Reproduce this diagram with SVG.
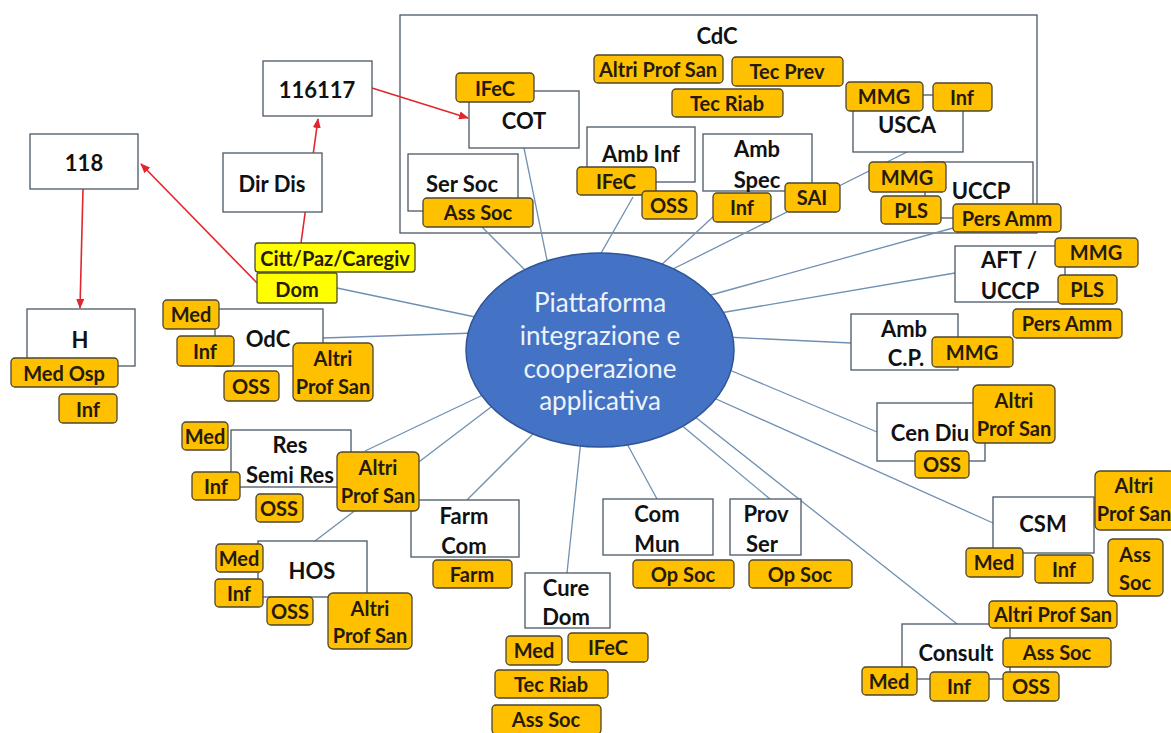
<svg xmlns="http://www.w3.org/2000/svg" width="1171" height="733" viewBox="0 0 1171 733">
<defs>
<style>
.bx{fill:#fff;stroke:#4a5866;stroke-width:1.3}
.fr{fill:none;stroke:#4a5866;stroke-width:1.3}
.o{fill:#FFC000;stroke:#4d4530;stroke-width:1.3}
.y{fill:#FFFF00;stroke:#4d4d2a;stroke-width:1.3}
.t{font-family:Lato,"Liberation Sans",sans-serif;font-weight:700;font-size:22px;fill:#111;text-anchor:middle;dominant-baseline:central}
.s{font-size:20px;fill:#261a0c}
.big{font-size:22px}
.hub{stroke:#7090b2;stroke-width:1.3;fill:none}
.red{stroke:#e3262e;stroke-width:1.6;fill:none;marker-end:url(#ah)}
.et{font-family:Lato,"Liberation Sans",sans-serif;font-size:26px;fill:#eef3fb;text-anchor:middle;dominant-baseline:central}
</style>
<marker id="ah" markerWidth="10" markerHeight="8" refX="9" refY="4" orient="auto" markerUnits="userSpaceOnUse"><path d="M0,0 L10,4 L0,8 z" fill="#e3262e"/></marker>
</defs>
<rect width="1171" height="733" fill="#fff"/>

<g id="n-cdc">
<rect class="fr" x="400" y="15" width="637" height="218"/>
<text class="t" x="717" y="35">CdC</text>
</g>

<g id="connectors">
<line class="hub" x1="482" y1="227" x2="530" y2="275"/>
<line class="hub" x1="524" y1="148" x2="548" y2="265"/>
<line class="hub" x1="633" y1="197" x2="596" y2="262"/>
<line class="hub" x1="715" y1="215" x2="658" y2="268"/>
<line class="hub" x1="907" y1="152" x2="665" y2="273"/>
<line class="hub" x1="953" y1="228" x2="700" y2="298"/>
<line class="hub" x1="955" y1="273" x2="720" y2="313"/>
<line class="hub" x1="851" y1="343" x2="725" y2="337"/>
<line class="hub" x1="877" y1="432" x2="720" y2="366"/>
<line class="hub" x1="993" y1="523" x2="705" y2="394"/>
<line class="hub" x1="957" y1="624" x2="685" y2="409"/>
<line class="hub" x1="770" y1="499" x2="680" y2="424"/>
<line class="hub" x1="657" y1="499" x2="625" y2="440"/>
<line class="hub" x1="567" y1="573" x2="581" y2="440"/>
<line class="hub" x1="467" y1="500" x2="535" y2="432"/>
<line class="hub" x1="365" y1="451" x2="485" y2="394"/>
<line class="hub" x1="315" y1="541" x2="495" y2="404"/>
<line class="hub" x1="323" y1="338" x2="475" y2="333"/>
<line class="hub" x1="337" y1="288" x2="480" y2="318"/>
<line class="red" x1="372" y1="88" x2="468" y2="118"/>
<line class="red" x1="301" y1="243" x2="318" y2="119"/>
<line class="red" x1="257" y1="283" x2="141" y2="164"/>
<line class="red" x1="83" y1="189" x2="80" y2="308"/>
</g>

<g id="n-hub">
<ellipse cx="600" cy="350" rx="134" ry="97" fill="#4472C4" stroke="#2f5597" stroke-width="1.5"/>
<text class="et" x="600" y="302">Piattaforma</text>
<text class="et" x="600" y="335">integrazione e</text>
<text class="et" x="600" y="368">cooperazione</text>
<text class="et" x="600" y="400">applicativa</text>
</g>

<g id="n-cdc-staff">
<rect class="o" x="594" y="55" width="129" height="28" rx="4"/><text class="t s" x="658" y="69">Altri Prof San</text>
<rect class="o" x="732" y="57" width="111" height="29" rx="4"/><text class="t s" x="787" y="71">Tec Prev</text>
<rect class="o" x="672" y="89" width="111" height="28" rx="4"/><text class="t s" x="727" y="103">Tec Riab</text>
</g>

<g id="n-116117">
<rect class="bx" x="263" y="61" width="109" height="55"/>
<text class="t big" x="317" y="89">116117</text>
</g>

<g id="n-118">
<rect class="bx" x="30" y="134" width="108" height="55"/>
<text class="t big" x="84" y="162">118</text>
</g>

<g id="n-dirdis">
<rect class="bx" x="223" y="153" width="99" height="59"/>
<text class="t" x="272" y="183">Dir Dis</text>
</g>

<g id="n-cot">
<rect class="bx" x="469" y="91" width="110" height="57"/>
<text class="t" x="524" y="120">COT</text>
<rect class="o" x="456" y="73" width="78" height="29" rx="4"/><text class="t s" x="495" y="88">IFeC</text>
</g>

<g id="n-sersoc">
<rect class="bx" x="408" y="154" width="110" height="57"/>
<text class="t" x="462" y="183">Ser Soc</text>
<rect class="o" x="423" y="198" width="110" height="29" rx="4"/><text class="t s" x="478" y="212">Ass Soc</text>
</g>

<g id="n-ambinf">
<rect class="bx" x="587" y="127" width="108" height="55"/>
<text class="t" x="641" y="153">Amb Inf</text>
<rect class="o" x="577" y="167" width="79" height="28" rx="4"/><text class="t s" x="616" y="181">IFeC</text>
<rect class="o" x="642" y="191" width="55" height="28" rx="4"/><text class="t s" x="669" y="205">OSS</text>
</g>

<g id="n-ambspec">
<rect class="bx" x="703" y="134" width="109" height="57"/>
<text class="t" x="757" y="148">Amb</text>
<text class="t" x="757" y="179">Spec</text>
<rect class="o" x="713" y="193" width="58" height="29" rx="4"/><text class="t s" x="742" y="207">Inf</text>
<rect class="o" x="785" y="183" width="55" height="29" rx="4"/><text class="t s" x="812" y="197">SAI</text>
</g>

<g id="n-usca">
<rect class="bx" x="853" y="95" width="110" height="57"/>
<text class="t" x="907" y="124">USCA</text>
<rect class="o" x="846" y="82" width="77" height="29" rx="4"/><text class="t s" x="884" y="96">MMG</text>
<rect class="o" x="933" y="83" width="59" height="28" rx="4"/><text class="t s" x="962" y="97">Inf</text>
</g>

<g id="n-uccp">
<rect class="bx" x="925" y="162" width="108" height="56"/>
<text class="t" x="981" y="190">UCCP</text>
<rect class="o" x="869" y="162" width="77" height="30" rx="4"/><text class="t s" x="907" y="177">MMG</text>
<rect class="o" x="881" y="196" width="60" height="28" rx="4"/><text class="t s" x="911" y="210">PLS</text>
<rect class="o" x="953" y="204" width="108" height="28" rx="4"/><text class="t s" x="1007" y="218">Pers Amm</text>
</g>

<g id="n-aft">
<rect class="bx" x="955" y="246" width="110" height="56"/>
<text class="t" x="1009" y="259">AFT /</text>
<text class="t" x="1010" y="290">UCCP</text>
<rect class="o" x="1055" y="238" width="83" height="29" rx="4"/><text class="t s" x="1096" y="252">MMG</text>
<rect class="o" x="1058" y="275" width="59" height="29" rx="4"/><text class="t s" x="1087" y="289">PLS</text>
<rect class="o" x="1013" y="309" width="109" height="29" rx="4"/><text class="t s" x="1067" y="323">Pers Amm</text>
</g>

<g id="n-ambcp">
<rect class="bx" x="851" y="314" width="107" height="56"/>
<text class="t" x="904" y="328">Amb</text>
<text class="t" x="906" y="357">C.P.</text>
<rect class="o" x="932" y="337" width="81" height="30" rx="4"/><text class="t s" x="972" y="352">MMG</text>
</g>

<g id="n-cendiu">
<rect class="bx" x="877" y="403" width="108" height="58"/>
<text class="t" x="930" y="432">Cen Diu</text>
<rect class="o" x="973" y="385" width="82" height="58" rx="5"/><text class="t s" x="1014" y="400">Altri</text><text class="t s" x="1014" y="428">Prof San</text>
<rect class="o" x="915" y="451" width="54" height="27" rx="4"/><text class="t s" x="942" y="464">OSS</text>
</g>

<g id="n-csm">
<rect class="bx" x="993" y="497" width="101" height="56"/>
<text class="t" x="1043" y="523">CSM</text>
<rect class="o" x="1095" y="471" width="80" height="59" rx="5"/><text class="t s" x="1134" y="485">Altri</text><text class="t s" x="1134" y="513">Prof San</text>
<rect class="o" x="966" y="548" width="57" height="29" rx="4"/><text class="t s" x="994" y="562">Med</text>
<rect class="o" x="1035" y="555" width="58" height="28" rx="4"/><text class="t s" x="1064" y="569">Inf</text>
<rect class="o" x="1108" y="539" width="55" height="57" rx="5"/><text class="t s" x="1135" y="554">Ass</text><text class="t s" x="1135" y="582">Soc</text>
</g>

<g id="n-consult">
<rect class="bx" x="902" y="624" width="108" height="55"/>
<text class="t" x="956" y="652">Consult</text>
<rect class="o" x="989" y="601" width="128" height="27" rx="4"/><text class="t s" x="1053" y="614">Altri Prof San</text>
<rect class="o" x="1003" y="638" width="108" height="29" rx="4"/><text class="t s" x="1057" y="652">Ass Soc</text>
<rect class="o" x="862" y="667" width="55" height="28" rx="4"/><text class="t s" x="889" y="681">Med</text>
<rect class="o" x="930" y="672" width="59" height="29" rx="4"/><text class="t s" x="959" y="686">Inf</text>
<rect class="o" x="1003" y="672" width="56" height="29" rx="4"/><text class="t s" x="1031" y="686">OSS</text>
</g>

<g id="n-provser">
<rect class="bx" x="730" y="499" width="71" height="56"/>
<text class="t" x="766" y="513">Prov</text>
<text class="t" x="762" y="543">Ser</text>
<rect class="o" x="749" y="560" width="103" height="28" rx="4"/><text class="t s" x="800" y="574">Op Soc</text>
</g>

<g id="n-commun">
<rect class="bx" x="603" y="499" width="110" height="56"/>
<text class="t" x="657" y="513">Com</text>
<text class="t" x="657" y="543">Mun</text>
<rect class="o" x="633" y="560" width="101" height="28" rx="4"/><text class="t s" x="683" y="574">Op Soc</text>
</g>

<g id="n-curedom">
<rect class="bx" x="525" y="573" width="85" height="55"/>
<text class="t" x="566" y="587">Cure</text>
<text class="t" x="566" y="616">Dom</text>
<rect class="o" x="506" y="636" width="56" height="29" rx="4"/><text class="t s" x="534" y="650">Med</text>
<rect class="o" x="568" y="633" width="80" height="29" rx="4"/><text class="t s" x="608" y="647">IFeC</text>
<rect class="o" x="495" y="670" width="113" height="28" rx="4"/><text class="t s" x="551" y="684">Tec Riab</text>
<rect class="o" x="492" y="705" width="109" height="29" rx="4"/><text class="t s" x="546" y="719">Ass Soc</text>
</g>

<g id="n-farmcom">
<rect class="bx" x="411" y="500" width="108" height="57"/>
<text class="t" x="464" y="515">Farm</text>
<text class="t" x="464" y="545">Com</text>
<rect class="o" x="433" y="560" width="79" height="28" rx="4"/><text class="t s" x="472" y="574">Farm</text>
</g>

<g id="n-hos">
<rect class="bx" x="258" y="541" width="109" height="56"/>
<text class="t" x="312" y="570">HOS</text>
<rect class="o" x="216" y="544" width="47" height="28" rx="4"/><text class="t s" x="239" y="558">Med</text>
<rect class="o" x="215" y="579" width="48" height="28" rx="4"/><text class="t s" x="239" y="593">Inf</text>
<rect class="o" x="267" y="597" width="46" height="28" rx="4"/><text class="t s" x="290" y="611">OSS</text>
<rect class="o" x="328" y="593" width="84" height="56" rx="5"/><text class="t s" x="370" y="608">Altri</text><text class="t s" x="370" y="635">Prof San</text>
</g>

<g id="n-res">
<rect class="bx" x="231" y="430" width="120" height="57"/>
<text class="t" x="290" y="444">Res</text>
<text class="t" x="290" y="474">Semi Res</text>
<rect class="o" x="182" y="422" width="46" height="28" rx="4"/><text class="t s" x="205" y="436">Med</text>
<rect class="o" x="192" y="472" width="48" height="28" rx="4"/><text class="t s" x="216" y="486">Inf</text>
<rect class="o" x="256" y="494" width="47" height="28" rx="4"/><text class="t s" x="279" y="508">OSS</text>
<rect class="o" x="337" y="452" width="82" height="59" rx="5"/><text class="t s" x="378" y="467">Altri</text><text class="t s" x="378" y="495">Prof San</text>
</g>

<g id="n-odc">
<rect class="bx" x="215" y="309" width="108" height="57"/>
<text class="t" x="268" y="338">OdC</text>
<rect class="o" x="163" y="300" width="56" height="29" rx="4"/><text class="t s" x="191" y="314">Med</text>
<rect class="o" x="177" y="336" width="57" height="30" rx="4"/><text class="t s" x="205" y="351">Inf</text>
<rect class="o" x="224" y="371" width="55" height="30" rx="4"/><text class="t s" x="251" y="386">OSS</text>
<rect class="o" x="293" y="343" width="80" height="58" rx="5"/><text class="t s" x="333" y="358">Altri</text><text class="t s" x="333" y="386">Prof San</text>
</g>

<g id="n-h">
<rect class="bx" x="27" y="309" width="108" height="57"/>
<text class="t" x="80" y="339">H</text>
<rect class="o" x="11" y="358" width="107" height="29" rx="4"/><text class="t s" x="64" y="373">Med Osp</text>
<rect class="o" x="59" y="394" width="58" height="29" rx="4"/><text class="t s" x="88" y="409">Inf</text>
</g>

<g id="n-dom">
<rect class="y" x="255" y="243" width="160" height="29" rx="3"/><text class="t s" x="335" y="258">Citt/Paz/Caregiv</text>
<rect class="y" x="257" y="273" width="80" height="30" rx="2"/><text class="t s" x="297" y="289">Dom</text>
</g>
</svg>
